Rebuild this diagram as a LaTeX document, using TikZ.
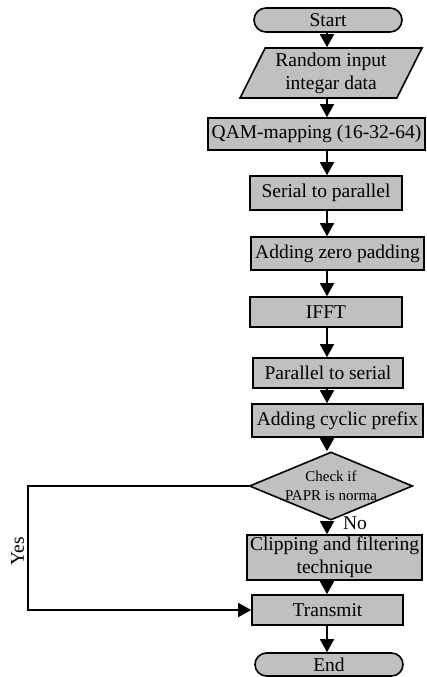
\documentclass[tikz,border=0pt]{standalone}
\usepackage{fontspec}
\setmainfont{Liberation Serif}
\usetikzlibrary{arrows.meta,shapes.geometric,shapes.misc}
\definecolor{boxgray}{RGB}{192,192,192}
\begin{document}
\begin{tikzpicture}[x=1pt,y=-1pt,
  base/.style={draw=black,fill=boxgray,line width=1.6pt,inner sep=0pt,align=center,
    font=\fontsize{19.5}{23}\selectfont},
  procbox/.style={base,rectangle},
  termbox/.style={base,rounded rectangle},
  iobox/.style={base,trapezium,trapezium left angle=62.5,trapezium right angle=117.5,trapezium stretches=true},
  decbox/.style={base,diamond,aspect=2.4,font=\fontsize{15}{19}\selectfont},
  flow/.style={line width=1.6pt,-{Triangle[length=13pt,width=14pt]}},
  lbl/.style={font=\fontsize{19.5}{23}\selectfont,inner sep=0pt}]
\useasboundingbox (0,0) rectangle (427,677);
\coordinate (col) at (327,0);
\node[termbox,minimum width=148,minimum height=24] (start) at (328,20) {Start};
\node[iobox,minimum width=182,minimum height=50] (input) at (331,73) {Random input\\integar data};
\node[procbox,minimum width=217,minimum height=32] (qam) at (316.5,134) {QAM-mapping (16-32-64)};
\node[procbox,minimum width=152,minimum height=34] (s2p) at (326,193) {Serial to parallel};
\node[procbox,minimum width=173,minimum height=33] (zero) at (337.5,253.5) {Adding zero padding};
\node[procbox,minimum width=152,minimum height=30] (ifft) at (326,312) {IFFT};
\node[procbox,minimum width=150,minimum height=30] (p2s) at (328,373) {Parallel to serial};
\node[procbox,minimum width=171,minimum height=33] (cp) at (337.5,420.5) {Adding cyclic prefix};
\node[decbox,minimum width=153,minimum height=64] (check) at (331,486) {Check if\\PAPR is norma};
\node[procbox,minimum width=175,minimum height=45] (clip) at (334.5,557.5) {Clipping and filtering\\technique};
\node[procbox,minimum width=151,minimum height=30] (tx) at (327.5,610) {Transmit};
\node[termbox,minimum width=148,minimum height=23] (end) at (329,664.5) {End};
\coordinate (yesx) at (28,0);
\foreach \a/\b in {start/input,input/qam,qam/s2p,s2p/zero,zero/ifft,ifft/p2s,p2s/cp,cp/check,check/clip,clip/tx,tx/end}
  \draw[flow] (\a.south -| col) -- (\b.north -| col);
\draw[flow] (check.west) -- (check.west -| yesx) -- (tx.west -| yesx) -- (tx.west);
\node[lbl,rotate=90] (yes) at (17.5,551) {Yes};
\node[lbl] (no) at (355,523) {No};
\end{tikzpicture}
\end{document}
